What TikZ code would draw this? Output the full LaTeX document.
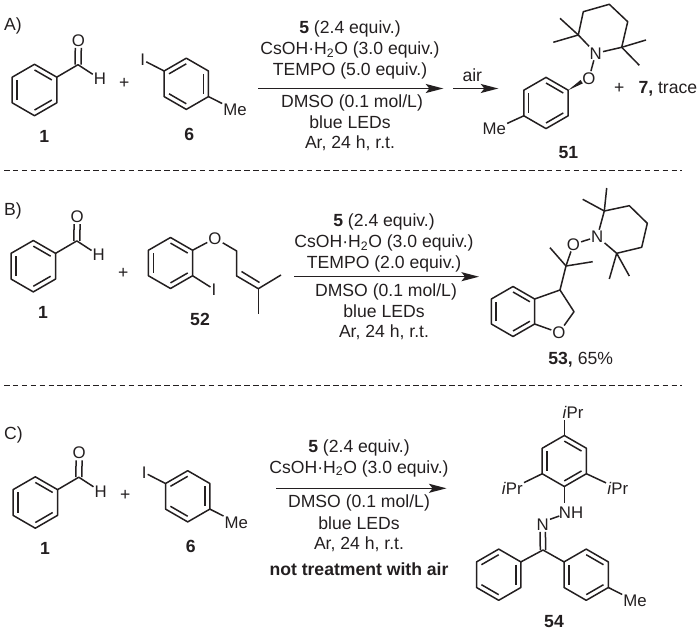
\documentclass[tikz,border=0pt]{standalone}
\usepackage{fontspec}
\setmainfont{Liberation Sans}
\usepackage{xcolor}
\usetikzlibrary{calc,arrows.meta,positioning}
\definecolor{ink}{HTML}{231F20}
\tikzset{
  bond/.style={line width=1.5pt,draw=ink,line join=round},
  rxn/.style={line width=1.5pt,draw=ink,-{Stealth[length=17.5pt,width=9pt,inset=3.5pt]}},
  sep/.style={line width=1.1pt,draw=ink,dash pattern=on 5.5pt off 3.4pt},
  every node/.style={font=\fontsize{17.6}{20}\selectfont,text=ink},
  atom/.style={inner sep=1pt,font=\fontsize{16.8}{20}\selectfont},
  cond/.style={inner sep=0pt},
  cmpd/.style={inner sep=0pt,font=\fontsize{17.6}{20}\selectfont\bfseries}
}
% ring: name, centre x, centre y, radius, bonds that are doubled
\newcommand{\benzring}[5]{
  \coordinate (#1c) at (#2,#3);
  \foreach \k in {1,...,6}
    \coordinate (#1\k) at ({#2+#4*cos(150-60*\k)},{#3-#4*sin(150-60*\k)});
  \draw[bond] (#11)--(#12)--(#13)--(#14)--(#15)--(#16)--cycle;
  \foreach \d in {#5}{
    \pgfmathtruncatemacro{\e}{mod(\d,6)+1}
    \draw[bond] ($(#1\d)!.22!(#1c)$)--($(#1\e)!.22!(#1c)$);
  }
}
% benzaldehyde 1
\newcommand{\aldehyde}[3]{
  \begin{scope}[shift={(#2,#3)}]
    \benzring{#1}{34.5}{90}{25.7}{1,3,5}
    \coordinate (#1cho) at (78,64.7);
    \node[atom] (#1o) at (78.3,40.7) {O};
    \node[atom] (#1h) at (100,79) {H};
    \node[cmpd] (#1lab) at (44.3,136) {1};
    \draw[bond] (#12)--(#1cho)--(#1h);
    \draw[bond] ([xshift=-3pt]#1cho)--([xshift=-3pt]#1o.south);
    \draw[bond] ([xshift=3pt]#1cho)--([xshift=3pt]#1o.south);
  \end{scope}
}
% iodotoluene 6
\newcommand{\iodide}[3]{
  \begin{scope}[shift={(#2,#3)}]
    \benzring{#1}{186.3}{83.8}{25.6}{2,4,6}
    \node[atom] (#1i) at (142.7,60) {I};
    \node[atom] (#1me) at (235,110) {Me};
    \node[cmpd] (#1lab) at (189.3,134.3) {6};
    \draw[bond] (#16)--(#1i);
    \draw[bond] (#13)--(#1me);
  \end{scope}
}

\begin{document}
\begin{tikzpicture}[x=1pt,y=-1pt]
  \useasboundingbox (0,0) rectangle (700,636);
  % panel A
  \node[cond,anchor=west] (tagA) at (4,26) {A)};
  \aldehyde{aa}{0}{0}
  \node[cond] (plusA) at (124.3,83) {+};
  \iodide{ai}{0}{0}
  \node[cond] (a1) at (350,28.5) {\textbf{5} (2.4 equiv.)};
  \node[cond] (a2) at (350,50) {CsOH·H\textsubscript{2}O (3.0 equiv.)};
  \node[cond] (a3) at (350,70.7) {TEMPO (5.0 equiv.)};
  \node[cond] (a4) at (352,102.5) {DMSO (0.1 mol/L)};
  \node[cond] (a5) at (350,122.7) {blue LEDs};
  \node[cond] (a6) at (350,143) {Ar, 24 h, r.t.};
  \coordinate (ra1) at (258.3,88.5);
  \coordinate (ra2) at (443.3,88.5);
  \coordinate (rb1) at (453.3,88.5);
  \coordinate (rb2) at (498.3,88.5);
  \draw[rxn] (ra1)--(ra2);
  \draw[rxn] (rb1)--(rb2);
  \node[cond] (air) at (472.3,75) {air};
  % 51
  \node[atom] (tn) at (595.7,53.3) {N};
  \node[atom] (to) at (589,78.3) {O};
  \coordinate (t2) at (578.3,35);
  \coordinate (t3) at (583.3,11.7);
  \coordinate (t4) at (609.3,4.3);
  \coordinate (t5) at (627.7,21.7);
  \coordinate (t6) at (621.7,47.3);
  \draw[bond] (tn)--(t2)--(t3)--(t4)--(t5)--(t6)--(tn);
  \draw[bond] (tn)--(to);
  \foreach \a/\b in {t2/{560,18.3},t2/{553.3,42.3},t6/{646,40},t6/{639.3,65.3}}
    \draw[bond] (\a)--(\b);
  \benzring{tr}{546}{103}{25.6}{1,3,5}
  \fill[ink] (tr2)--(580.6,80)--(582.8,83.4)--cycle;
  \node[atom] (tme) at (494.3,129.3) {Me};
  \draw[bond] (tr5)--(tme);
  \node[cmpd] (l51) at (568.3,152.7) {51};
  \node[cond] (plusT) at (619.3,88.3) {+};
  \node[cond,anchor=west] (tr7) at (638.3,88.7) {\textbf{7,} trace};
  \draw[sep] (4,170.6)--(682,170.6);
  % panel B
  \node[cond,anchor=west] (tagB) at (4,210.7) {B)};
  \aldehyde{ba}{-1.2}{176.2}
  \node[cond] (plusB) at (123.3,273.3) {+};
  \benzring{br}{170.5}{263}{25.5}{1,3,5}
  \node[atom] (bo) at (215,238.3) {O};
  \node[atom] (bi) at (214,289.3) {I};
  \coordinate (bch) at (236.7,251);
  \coordinate (bcv) at (236.7,276);
  \coordinate (bcq) at (258.3,288.7);
  \coordinate (bm1) at (281,275);
  \coordinate (bm2) at (258.3,314.3);
  \draw[bond] (br2)--(bo)--(bch)--(bcv)--(bcq)--(bm1);
  \draw[bond] (bcq)--(bm2);
  \draw[bond] (br3)--(bi);
  \draw[bond] (241.5,271.5)--(259.5,282.5);
  \node[cmpd] (l52) at (200,319.3) {52};
  \node[cond] (b1) at (384,221.7) {\textbf{5} (2.4 equiv.)};
  \node[cond] (b2) at (384,243.3) {CsOH·H\textsubscript{2}O (3.0 equiv.)};
  \node[cond] (b3) at (384,264.3) {TEMPO (2.0 equiv.)};
  \node[cond] (b4) at (386,292.3) {DMSO (0.1 mol/L)};
  \node[cond] (b5) at (384,311.7) {blue LEDs};
  \node[cond] (b6) at (384,332.3) {Ar, 24 h, r.t.};
  \coordinate (rc1) at (294,276.7);
  \coordinate (rc2) at (479,276.7);
  \draw[rxn] (rc1)--(rc2);
  % 53
  \node[atom] (un) at (597.3,236.7) {N};
  \node[atom] (uo) at (573.3,244.3) {O};
  \coordinate (u2) at (604.3,211);
  \coordinate (u3) at (629.3,205.7);
  \coordinate (u4) at (647.3,223.3);
  \coordinate (u5) at (641.7,247.3);
  \coordinate (u6) at (616.7,253.3);
  \draw[bond] (un)--(u2)--(u3)--(u4)--(u5)--(u6)--(un);
  \draw[bond] (un)--(uo);
  \coordinate (uq) at (566,266);
  \coordinate (uch) at (560,290);
  \coordinate (uch2) at (574,311.7);
  \node[atom] (uf) at (559,332.7) {O};
  \benzring{ur}{513}{311.5}{25}{1,3,5}
  \draw[bond] (uo)--(uq)--(uch)--(uch2)--(uf)--(ur3);
  \draw[bond] (uch)--(ur2);
  \foreach \a/\b in {u2/{582.7,199.3},u2/{606.7,188},u6/{629.3,276},u6/{609.3,279},
    uq/{550,247.7},uq/{592.7,261.7}}
    \draw[bond] (\a)--(\b);
  \node[cond] (l53) at (580.7,360) {\textbf{53,} 65\%};
  \draw[sep] (4,385.7)--(682,385.7);
  % panel C
  \node[cond,anchor=west] (tagC) at (4,435) {C)};
  \aldehyde{ca}{0.8}{412.5}
  \node[cond] (plusC) at (125.3,495.7) {+};
  \iodide{ci}{1.4}{412.5}
  \node[cond] (c1) at (359,447.5) {\textbf{5} (2.4 equiv.)};
  \node[cond] (c2) at (359,468.7) {CsOH·H\textsubscript{2}O (3.0 equiv.)};
  \node[cond] (c3) at (359,502.7) {DMSO (0.1 mol/L)};
  \node[cond] (c4) at (359,523) {blue LEDs};
  \node[cond] (c5) at (359,544) {Ar, 24 h, r.t.};
  \node[cmpd] (c6) at (359,569.7) {not treatment with air};
  \coordinate (rd1) at (276,488.3);
  \coordinate (rd2) at (446.5,488.3);
  \draw[rxn] (rd1)--(rd2);
  % 54
  \benzring{vt}{564.3}{461}{25.5}{1,3,5}
  \node[atom] (vp1) at (573,412.7) {\textit{i}Pr};
  \node[atom] (vp2) at (512.3,488.3) {\textit{i}Pr};
  \node[atom] (vp3) at (617.7,488.3) {\textit{i}Pr};
  \draw[bond] (vt1)--(564.3,420);
  \draw[bond] (vt5)--(vp2);
  \draw[bond] (vt3)--(vp3);
  \node[atom] (vnh) at (571,512.7) {NH};
  \node[atom] (vn) at (542.7,525) {N};
  \coordinate (vc) at (543,550);
  \draw[bond] (vt4)--(564.3,503.3);
  \draw[bond] (550,519.3)--(559.3,516);
  \draw[bond] ([xshift=-2.7pt]vc)--([xshift=-2.7pt]vn.south);
  \draw[bond] ([xshift=2.7pt]vc)--([xshift=2.7pt]vn.south);
  \benzring{vl}{498.7}{574.7}{25.6}{2,4,6}
  \benzring{vr}{586.2}{574.7}{25.6}{1,3,5}
  \draw[bond] (vl2)--(vc)--(vr6);
  \node[atom] (vme) at (635,601) {Me};
  \draw[bond] (vr3)--(vme);
  \node[cmpd] (l54) at (554,621.7) {54};
\end{tikzpicture}
\end{document}
